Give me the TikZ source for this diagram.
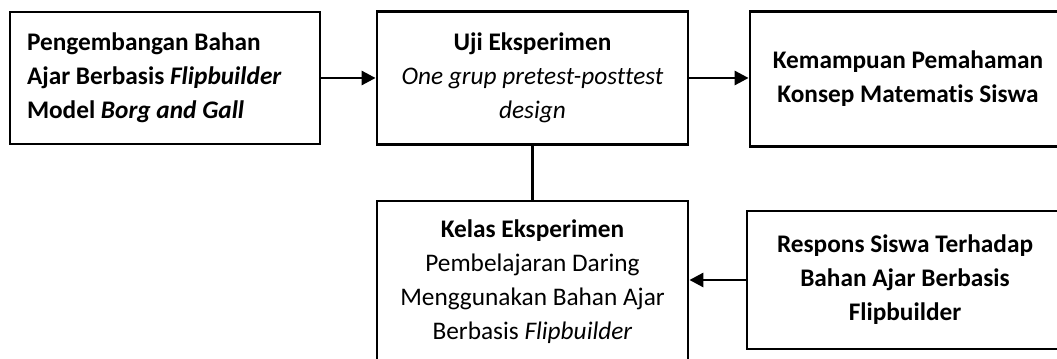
\documentclass[tikz,border=0pt]{standalone}
\usepackage{fontspec}
\setmainfont{Carlito}[Ligatures={NoCommon}]
\usetikzlibrary{arrows.meta}

\begin{document}
\begin{tikzpicture}[
  box/.style={
    rectangle, draw=black, line width=1.6pt, fill=white,
    minimum width=6.22cm, minimum height=2.66cm,
    font=\fontsize{14.4}{19.4}\selectfont, align=center
  },
  arrow/.style={-{Triangle[length=0.28cm,width=0.28cm]}, line width=1.6pt}
]
\useasboundingbox (0,0) rectangle (21.14,7.16);
\clip (0,0) rectangle (21.14,7.16);

% Top row
\node[box, text width=5.52cm, inner xsep=0.34cm, align=flush left, minimum width=6.2cm,
  minimum height=2.64cm] (pengembangan) at (3.30,5.60)
  {\textbf{Pengembangan Bahan}\\\textbf{Ajar Berbasis \textit{Flipbuilder}}\\
   \textbf{Model \textit{Borg and Gall}}};
\node[box] (uji) at (10.65,5.60)
  {\textbf{Uji Eksperimen}\\\textit{One grup pretest-posttest}\\\textit{design}};
\node[box, minimum width=6.32cm, minimum height=2.7cm] (kemampuan) at (18.16,5.58)
  {\textbf{Kemampuan Pemahaman}\\\textbf{Konsep Matematis Siswa}};

% Bottom row
\node[box, minimum height=3.22cm] (kelas) at (10.65,1.53)
  {\textbf{Kelas Eksperimen}\\Pembelajaran Daring\\Menggunakan Bahan Ajar\\
   Berbasis \textit{Flipbuilder}};
\node[box, minimum width=6.32cm, minimum height=2.76cm] (respons) at (18.10,1.56)
  {\textbf{Respons Siswa Terhadap}\\\textbf{Bahan Ajar Berbasis}\\\textbf{Flipbuilder}};

% Arrows
\draw[arrow] (pengembangan.east) -- (uji.west);
\draw[arrow] (uji.east) -- (uji.east -| kemampuan.west);
\draw[line width=1.6pt] (uji.south) -- (kelas.north);
\draw[arrow] (respons.west) -- (respons.west -| kelas.east);
\end{tikzpicture}
\end{document}
